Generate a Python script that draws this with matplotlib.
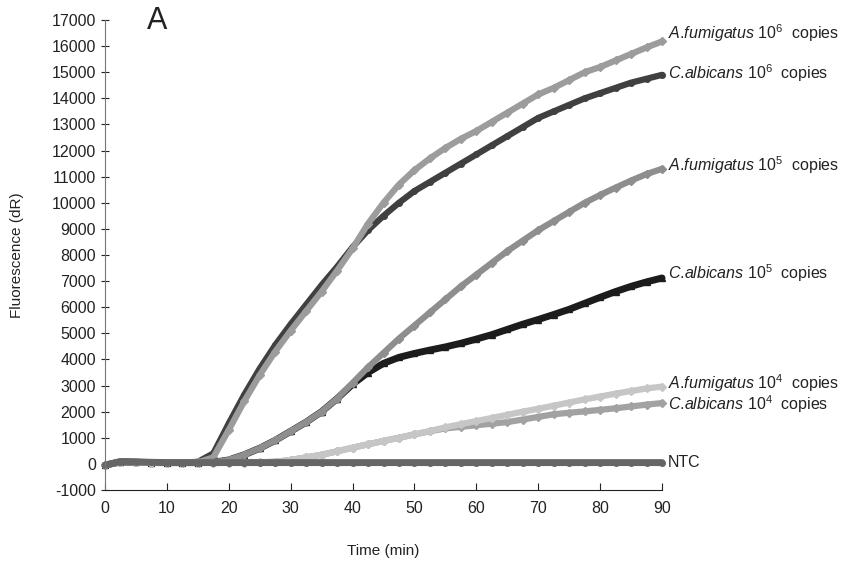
import matplotlib
matplotlib.use('Agg')
import matplotlib.pyplot as plt
import numpy as np

plt.rcParams['font.family'] = ['Liberation Sans', 'DejaVu Sans']
plt.rcParams['mathtext.fontset'] = 'custom'
plt.rcParams['mathtext.rm'] = 'Liberation Sans'
plt.rcParams['mathtext.it'] = 'Liberation Sans:italic'
plt.rcParams['axes.unicode_minus'] = False

# time (min), read every 2.5 min
t = np.arange(0, 90.01, 2.5)

# fluorescence (dR) per sample
af_1e6 = [-50, 80, 60, 50, 50, 50, 60, 250, 1300, 2400, 3400, 4300, 5100, 5850, 6600, 7400,
          8250, 9200, 10000, 10700, 11250, 11700, 12100, 12450, 12750, 13100, 13450, 13800,
          14150, 14400, 14700, 15000, 15200, 15450, 15700, 15950, 16180]
ca_1e6 = [-50, 80, 60, 50, 50, 50, 80, 400, 1550, 2650, 3650, 4550, 5350, 6100, 6850, 7550,
          8300, 8950, 9500, 10000, 10450, 10800, 11150, 11500, 11850, 12200, 12550, 12900,
          13250, 13500, 13750, 14000, 14200, 14400, 14600, 14750, 14900]
af_1e5 = [-50, 80, 60, 50, 50, 50, 50, 60, 150, 350, 600, 900, 1250, 1600, 2000, 2500,
          3100, 3700, 4250, 4800, 5300, 5800, 6300, 6800, 7250, 7700, 8150, 8550,
          8950, 9300, 9650, 10000, 10300, 10580, 10850, 11100, 11300]
ca_1e5 = [-50, 80, 60, 50, 50, 50, 50, 60, 150, 350, 600, 900, 1250, 1600, 2000, 2500,
          3050, 3500, 3850, 4080, 4230, 4360, 4480, 4620, 4780, 4950, 5150, 5350,
          5530, 5720, 5920, 6150, 6380, 6600, 6800, 6970, 7120]
af_1e4 = [-50, 80, 60, 50, 50, 50, 50, 50, 50, 50, 60, 80, 150, 250, 350, 480,
          620, 750, 880, 1000, 1130, 1260, 1400, 1520, 1640, 1760, 1880, 2000,
          2110, 2230, 2350, 2470, 2580, 2690, 2790, 2890, 2960]
ca_1e4 = [-50, 80, 60, 50, 50, 50, 50, 50, 50, 50, 60, 80, 150, 250, 350, 480,
          620, 750, 880, 1000, 1130, 1250, 1360, 1420, 1480, 1540, 1600, 1700,
          1800, 1900, 1960, 2010, 2070, 2130, 2200, 2270, 2330]
ntc = [-50, 90, 80, 60, 50, 50, 50, 50, 50, 50, 50, 50, 50, 50, 50, 50,
       50, 50, 50, 50, 50, 50, 50, 50, 50, 50, 50, 50,
       50, 50, 50, 50, 50, 50, 50, 50, 50]

labels = [r'$\it{A}$.$\it{fumigatus}$ 10$^{6}$  copies',
          r'$\it{C}$.$\it{albicans}$ 10$^{6}$  copies',
          r'$\it{A}$.$\it{fumigatus}$ 10$^{5}$  copies',
          r'$\it{C}$.$\it{albicans}$ 10$^{5}$  copies',
          r'$\it{A}$.$\it{fumigatus}$ 10$^{4}$  copies',
          r'$\it{C}$.$\it{albicans}$ 10$^{4}$  copies',
          'NTC']
label_y = [16510, 14980, 11460, 7320, 3100, 2300, 40]

fig = plt.figure(figsize=(8.48, 5.62), dpi=100)
ax = fig.add_axes([0.1238, 0.1281, 0.6569, 0.8363])

# draw order: back to front
series = [
    (ca_1e6, '#404040', 'o', 4.5),
    (af_1e6, '#9c9c9c', 'D', 4.5),
    (ca_1e5, '#1c1c1c', '^', 5.0),
    (af_1e5, '#8e8e8e', 'D', 4.5),
    (ca_1e4, '#a2a2a2', 'D', 4.5),
    (af_1e4, '#c6c6c6', 'D', 4.5),
    (ntc, '#666666', 'o', 5.0),
]
for y, c, m, lw in series:
    ax.plot(t, y, color=c, lw=lw, marker=m, ms=4, mec=c, mfc=c,
            solid_capstyle='round', solid_joinstyle='round', clip_on=False)

for lab, yy in zip(labels, label_y):
    ax.text(91, yy, lab, fontsize=11.5, va='center', ha='left', color='#222222')

ax.text(6.8, 16950, 'A', fontsize=22, va='center', ha='left', color='#222222')

ax.set_xlim(0, 90)
ax.set_ylim(-1000, 17000)
ax.set_xticks(np.arange(0, 91, 10))
ax.set_yticks(np.arange(-1000, 17001, 1000))
ax.spines['top'].set_visible(False)
ax.spines['right'].set_visible(False)
ax.spines['left'].set_color('#777777')
ax.spines['bottom'].set_color('#222222')
ax.tick_params(axis='x', direction='in', length=5, labelsize=11.5, pad=8, colors='#222222')
ax.tick_params(axis='y', direction='inout', length=6, labelsize=11.5, colors='#222222')
ax.set_xlabel('Time (min)', fontsize=11, labelpad=20, color='#222222')
ax.set_ylabel('Fluorescence (dR)', fontsize=11, labelpad=20, color='#222222')

fig.savefig('out.png', dpi=100)
